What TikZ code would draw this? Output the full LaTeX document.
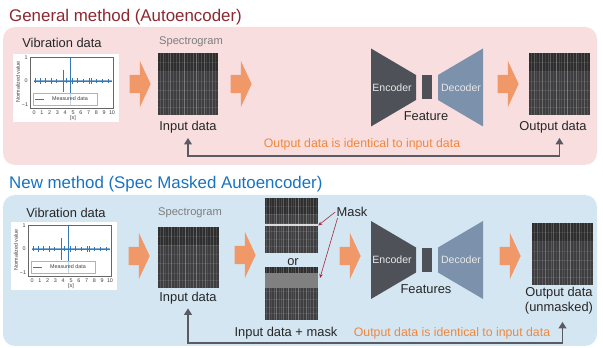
\documentclass[tikz,border=0pt]{standalone}
\usepackage{fontspec}
\setmainfont{Liberation Sans}
\usetikzlibrary{shapes.arrows,arrows.meta,calc}
\newcommand\pxl{0.03cm}
\definecolor{pinkbg}{RGB}{249,222,223}
\definecolor{bluebg}{RGB}{213,230,243}
\definecolor{titlered}{RGB}{140,40,48}
\definecolor{titleblue}{RGB}{25,115,195}
\definecolor{flow}{RGB}{241,152,104}
\definecolor{encgray}{RGB}{78,82,88}
\definecolor{decblue}{RGB}{123,145,172}
\definecolor{fbgray}{RGB}{88,92,98}
\definecolor{samecol}{RGB}{240,135,60}
\definecolor{maskred}{RGB}{165,35,55}
\definecolor{specbg}{RGB}{62,62,64}
\definecolor{maskband}{RGB}{128,128,128}
\definecolor{sigblue}{RGB}{55,120,180}
\definecolor{labgray}{RGB}{125,125,125}

% small matplotlib-like plot of the vibration signal
\newcommand\vibplot[2]{%
\begin{scope}[shift={#1}]
  \fill[white] (0,0) rectangle (106,68);
  \draw[black!60, line width=0.3pt] (17,3) rectangle (100,54);
  \foreach \t in {0,...,10}
    \draw[black!60, line width=0.3pt] ({21+7.8*\t},54) -- ({21+7.8*\t},55.5);
  \draw[sigblue!60, line width=1.2pt] (21,27) -- (99,27);
  \draw[sigblue, line width=0.4pt] (21,27) -- (99,27);
  \foreach \t/\a in {0.2/2.5,0.8/3,1.5/2.5,2.2/3,2.9/2,3.7/11,4.1/2.5,4.6/24,4.9/3,5.5/2.5,6.3/2,7.1/3,7.3/3,8.0/2,8.7/2,9.5/2}
    \draw[sigblue, line width=0.5pt] ({21+7.8*\t},{27-\a}) -- ({21+7.8*\t},{27+\a});
  \draw[black!30, line width=0.3pt, fill=white, fill opacity=0.7] (20,39) rectangle (84,51);
  \draw[sigblue, line width=0.5pt] (22,45) -- (31,45);
  \node at (57,45) [plotfont] (#2leg) {Measured data};
  \foreach \t in {0,...,10}
    \node at ({21+7.8*\t},58.5) [plotfont] (#2x\t) {\t};
  \node at (60,64) [plotfont] (#2xl) {[s]};
  \node at (13,3.5) [plotfont] (#2yt) {1};
  \node at (13,27) [plotfont] (#2yz) {0};
  \node at (12,51) [plotfont] (#2yb) {−1};
  \node at (5,28) [plotfont, rotate=90] (#2yl) {Normalized value};
\end{scope}}

% encoder, feature block and decoder
\newcommand\codec[3]{%
\begin{scope}[shift={(0,#1)}]
  \fill[encgray] (371,-39) -- (416,-12.5) -- (416,12.5) -- (371,39) -- cycle;
  \fill[encgray] (422,-12) rectangle (432,12);
  \fill[decblue] (438,-12.5) -- (483,-39) -- (483,39) -- (438,12.5) -- cycle;
  \node at (392,0) [coder] (#2enc) {Encoder};
  \node at (461,0) [coder] (#2dec) {Decoder};
  \node at (426,29) [lbl] (#2feat) {#3};
\end{scope}}

\begin{document}
\begin{tikzpicture}[x=\pxl, y=-\pxl,
  title/.style={font=\fontsize{14.4}{17}\selectfont, anchor=base west, inner sep=0},
  lbl/.style={font=\fontsize{11}{13}\selectfont, text=black!85, inner sep=1pt, align=center},
  speclbl/.style={font=\fontsize{9.5}{11}\selectfont, text=labgray, inner sep=1pt},
  plotfont/.style={font=\fontsize{4.6}{5}\selectfont, text=black!75, inner sep=0},
  coder/.style={font=\fontsize{9}{11}\selectfont, text=white!82!gray, inner sep=0},
  same/.style={font=\fontsize{10.5}{12}\selectfont, text=samecol, inner sep=1pt},
  flowarrow/.style={single arrow, fill=flow, draw=none, inner xsep=0, inner ysep=0.27cm,
    minimum height=0.63cm, single arrow head extend=0.42cm, single arrow tip angle=130},
  spec/.style={fill=specbg, inner sep=0, path picture={
    \fill[black, opacity=0.25] (path picture bounding box.north west) rectangle
      ($(path picture bounding box.north east)!0.3!(path picture bounding box.south east)$);
    \foreach \xf/\op in {0.03/0.12,0.08/0.2,0.12/0.08,0.17/0.15,0.21/0.25,0.26/0.1,0.31/0.14,0.35/0.22,0.4/0.08,0.44/0.3,0.49/0.12,0.53/0.1,0.58/0.2,0.63/0.3,0.67/0.1,0.72/0.15,0.77/0.24,0.81/0.09,0.86/0.14,0.91/0.2,0.96/0.1}
      \draw[white, opacity=\op, line width=0.45pt]
        ($(path picture bounding box.north west)!\xf!(path picture bounding box.north east)$) --
        ($(path picture bounding box.south west)!\xf!(path picture bounding box.south east)$);
    \foreach \yf/\op in {0.15/0.08,0.3/0.1,0.45/0.07,0.6/0.1,0.75/0.07,0.88/0.09}
      \draw[white, opacity=\op, line width=0.4pt]
        ($(path picture bounding box.north west)!\yf!(path picture bounding box.south west)$) --
        ($(path picture bounding box.north east)!\yf!(path picture bounding box.south east)$);
  }},
  fb/.style={draw=fbgray, line width=1.7pt,
    {Triangle[width=6.5pt,length=5.5pt]}-{Triangle[width=6.5pt,length=5.5pt]}},
  masklink/.style={draw=maskred, line width=0.5pt, -{Stealth[length=3.5pt,width=3pt]}}]
  \useasboundingbox (0,0) rectangle (603,348);
  \fill[white] (0,0) rectangle (603,348);

  %General method
  \node at (9,22) [title, text=titlered] (ttl1) {General method (Autoencoder)};
  \fill[pinkbg, rounded corners=12*\pxl] (3,27) rectangle (597,165);

  \node at (62,43) [lbl] (vib1) {Vibration data};
  \vibplot{(13,54)}{p1}
  \node at (138,84) [flowarrow] (a11) {};
  \node at (191,42) [speclbl] (sg1) {Spectrogram};
  \node at (188,84) [spec, minimum width=60*\pxl, minimum height=62*\pxl] (in1) {};
  \node at (188,127) [lbl] (in1lbl) {Input data};
  \node at (239,84) [flowarrow] (a12) {};
  \codec{87.5}{c1}{Feature}
  \node at (506,84) [flowarrow] (a13) {};
  \node at (559.5,84) [spec, minimum width=61*\pxl, minimum height=62*\pxl] (out1) {};
  \node at (553,127) [lbl] (out1lbl) {Output data};
  \node at (362,144) [same] (same1) {Output data is identical to input data};
  \coordinate (fb1) at (375,156);
  \draw[fb, shorten <=3pt, shorten >=3pt] (in1lbl.south) |- (fb1) -| (out1lbl.south -| out1.south);

  %New method
  \node at (9,189) [title, text=titleblue] (ttl2) {New method (Spec Masked Autoencoder)};
  \fill[bluebg, rounded corners=12*\pxl] (3,195) rectangle (597,346);

  \node at (66,213) [lbl] (vib2) {Vibration data};
  \vibplot{(11,222)}{p2}
  \node at (137,256) [flowarrow] (a21) {};
  \node at (190,213) [speclbl] (sg2) {Spectrogram};
  \node at (188.5,257.5) [spec, minimum width=61*\pxl, minimum height=61*\pxl] (in2) {};
  \node at (188,298) [lbl] (in2lbl) {Input data};
  \node at (243,255) [flowarrow] (a22) {};
  \node at (291.5,225.5) [spec, minimum width=53*\pxl, minimum height=55*\pxl] (mask1) {};
  \fill[white!72!gray] (265,224) rectangle (318,226.5);
  \node at (293,262) [lbl] (or) {or};
  \node at (291.5,293.5) [spec, minimum width=53*\pxl, minimum height=53*\pxl] (mask2) {};
  \fill[maskband] (265,273) rectangle (318,288);
  \coordinate (band) at (320,278);
  \node at (352,212) [lbl] (masklbl) {Mask};
  \draw[masklink] (masklbl.west) -- (mask1.east);
  \draw[masklink] ([xshift=2pt]masklbl.south west) -- (band);
  \node at (286,333) [lbl] (in2mask) {Input data + mask};
  \node at (348,256) [flowarrow] (a23) {};
  \codec{260}{c2}{Features}
  \node at (508,256) [flowarrow] (a24) {};
  \node at (562.5,254) [spec, minimum width=61*\pxl, minimum height=62*\pxl] (out2) {};
  \node at (559,301) [lbl] (out2lbl) {Output data\\(unmasked)};
  \node at (452,333) [same] (same2) {Output data is identical to input data};
  \coordinate (fb2) at (375,343);
  \draw[fb, shorten <=2.5pt, shorten >=5pt] (in2lbl.south) |- (fb2) -| (out2lbl.south -| out2.south);
\end{tikzpicture}
\end{document}
